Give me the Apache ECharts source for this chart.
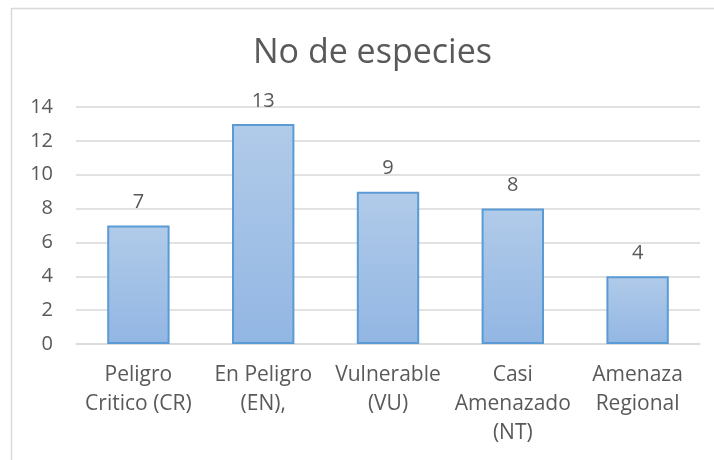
<!DOCTYPE html>
<html><head><meta charset="utf-8">
<script src="https://cdn.jsdelivr.net/npm/echarts@6/dist/echarts.min.js"></script>
<style>html,body{margin:0;padding:0;background:#fff}#c{width:714px;height:460px}</style>
</head><body><div id="c"></div>
<script>
var categories = ['Peligro\nCritico (CR)', 'En Peligro\n(EN),', 'Vulnerable\n(VU)', 'Casi\nAmenazado\n(NT)', 'Amenaza\nRegional'];
var values = [7, 13, 9, 8, 4];
var yTicks = {min: 0, max: 14, interval: 2};
var titleText = 'No de especies';

var FONT = '"Open Sans", sans-serif';
var chart = echarts.init(document.getElementById('c'));
chart.setOption({
  animation: false,
  title: {text: titleText, left: 248, top: 31,
    textStyle: {fontFamily: FONT, fontWeight: 'normal', fontSize: 34, color: '#595959'}},
  graphic: [
    {type: 'line', shape: {x1: 11.5, y1: 8.5, x2: 11.5, y2: 460}, style: {stroke: '#d9d9d9', lineWidth: 1.5}},
    {type: 'line', shape: {x1: 11, y1: 8.5, x2: 714, y2: 8.5}, style: {stroke: '#d9d9d9', lineWidth: 1.5}}
  ],
  grid: {left: 76, right: 14, top: 107, bottom: 116, containLabel: false},
  xAxis: {type: 'category', data: categories,
    axisLine: {lineStyle: {color: '#d9d9d9', width: 1.5}},
    axisTick: {show: false},
    axisLabel: {fontFamily: FONT, fontSize: 21, color: '#595959', margin: 17, lineHeight: 29, interval: 0}},
  yAxis: {type: 'value', min: yTicks.min, max: yTicks.max, interval: yTicks.interval,
    axisLine: {show: false}, axisTick: {show: false},
    splitLine: {lineStyle: {color: '#d9d9d9', width: 1.5}},
    axisLabel: {fontFamily: FONT, fontSize: 20, color: '#595959', margin: 23}},
  series: [{type: 'bar', data: values, barWidth: '50%',
    itemStyle: {
      color: new echarts.graphic.LinearGradient(0, 0, 0, 1, [
        {offset: 0, color: '#b1cbe9'}, {offset: 1, color: '#92b6e3'}]),
      borderColor: '#5b9bd5', borderWidth: 2},
    label: {show: true, position: 'top', distance: 13, fontFamily: FONT, fontSize: 20, color: '#595959'}
  }]
});
</script></body></html>
